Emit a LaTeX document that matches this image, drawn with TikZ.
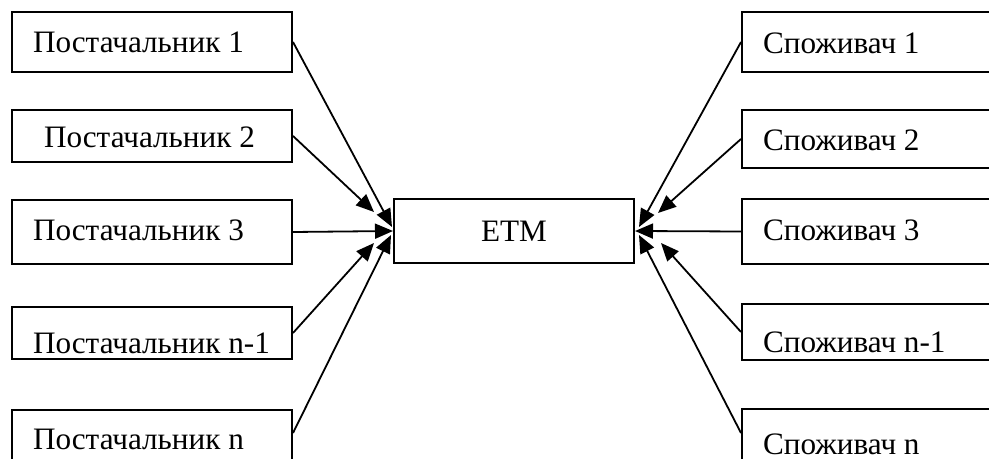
\documentclass[tikz,border=0pt]{standalone}
\usepackage{fontspec}
\setmainfont{Liberation Serif}
\usetikzlibrary{arrows.meta,calc}
\newcommand{\ltxt}[1]{\makebox[119pt][l]{#1}}
\newcommand{\rtxt}[1]{\makebox[129pt][l]{#1}}
\tikzset{
  box/.style={draw=black, line width=1pt, fill=white, inner ysep=0pt, inner xsep=10.5pt,
    anchor=north west, font=\fontsize{15.6}{18}\selectfont},
  conn/.style={line width=0.9pt, -{Triangle[length=9pt,width=7.5pt]}}
}
\begin{document}
\begin{tikzpicture}[x=0.5pt,y=-0.5pt]
\useasboundingbox (0,0) rectangle (989,459);
\clip (0,0) rectangle (989,459);
% left boxes
\node[box, text height=20.5pt, text depth=9.5pt] (l1) at (11,11) {\ltxt{Постачальник 1}};
\node[box, text height=19pt, text depth=7pt] (l2) at (11,109) {\ltxt{\hspace{5.5pt}Постачальник 2}};
\node[box, text height=20.5pt, text depth=11.5pt] (l3) at (11,199) {\ltxt{Постачальник 3}};
\node[box, text height=23pt, text depth=3pt] (l4) at (11,306) {\ltxt{Постачальник n-1}};
\node[box, text height=19.5pt, text depth=15pt] (l5) at (11,409) {\ltxt{Постачальник n}};
% centre
\node[draw=black, line width=1pt, minimum width=120pt, minimum height=32pt, inner sep=0pt,
  font=\fontsize{15.6}{18}\selectfont] (etm) at (514,231) {ETM};
% right boxes
\node[box, text height=21pt, text depth=9pt] (r1) at (741,11) {\rtxt{Споживач 1}};
\node[box, text height=20.5pt, text depth=8.5pt] (r2) at (741,109) {\rtxt{Споживач 2}};
\node[box, text height=21pt, text depth=11.5pt] (r3) at (741,198) {\rtxt{Споживач 3}};
\node[box, text height=24pt, text depth=4pt] (r4) at (741,303) {\rtxt{Споживач n-1}};
\node[box, text height=22.5pt, text depth=12pt] (r5) at (741,408) {\rtxt{Споживач n}};
% arrow end points
\coordinate (tl1) at ($(etm.west)+(-1,-4)$);
\coordinate (tl2) at ($(etm.west)+(-19,-19)$);
\coordinate (tl4) at ($(etm.west)+(-19,12)$);
\coordinate (tl5) at ($(etm.west)+(-2,4)$);
\coordinate (tr1) at ($(etm.east)+(4,-4)$);
\coordinate (tr2) at ($(etm.east)+(23,-18)$);
\coordinate (tr4) at ($(etm.east)+(26,12)$);
\coordinate (tr5) at ($(etm.east)+(4,4)$);
\coordinate (sl5) at ($(l5.north east)+(0,24)$);
\coordinate (sr5) at ($(r5.north west)+(0,25)$);
% connectors
\draw[conn] (l1.east) -- (tl1);
\draw[conn] (l2.east) -- (tl2);
\draw[conn] (l3.east) -- (etm.west);
\draw[conn] (l4.east) -- (tl4);
\draw[conn] (sl5) -- (tl5);
\draw[conn] (r1.west) -- (tr1);
\draw[conn] (r2.west) -- (tr2);
\draw[conn] (r3.west) -- (etm.east);
\draw[conn] (r4.west) -- (tr4);
\draw[conn] (sr5) -- (tr5);
\end{tikzpicture}
\end{document}
